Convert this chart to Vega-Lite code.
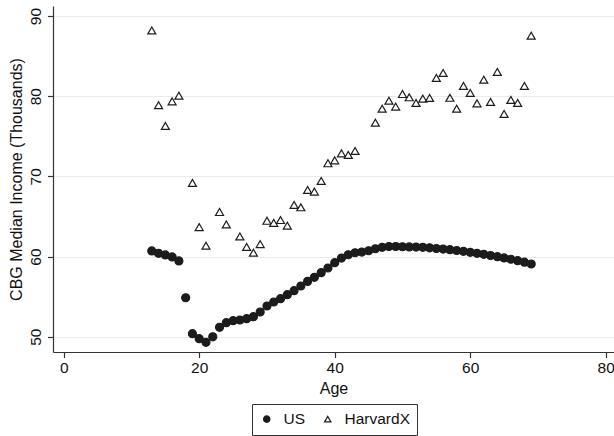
{
  "$schema": "https://vega.github.io/schema/vega-lite/v6.json",
  "width": 561,
  "height": 346,
  "autosize": "none",
  "padding": {"left": 53, "top": 6, "right": 0, "bottom": 84},
  "background": "white",
  "config": {
    "view": {"stroke": null},
    "font": "Liberation Sans",
    "axis": {
      "labelFont": "Liberation Sans",
      "titleFont": "Liberation Sans",
      "labelFontSize": 15.5,
      "titleFontSize": 16,
      "titleFontWeight": "normal",
      "labelColor": "#111111",
      "titleColor": "#111111",
      "domainColor": "#333333",
      "tickColor": "#333333",
      "domainWidth": 1.2,
      "tickWidth": 1.2,
      "tickSize": 5.5
    },
    "legend": {
      "strokeColor": "#333333",
      "padding": 7,
      "symbolSize": 40,
      "symbolStrokeWidth": 1.2,
      "labelOffset": 9,
      "columnPadding": 14,
      "labelFont": "Liberation Sans",
      "labelFontSize": 15.5,
      "labelColor": "#111111"
    }
  },
  "data": {
    "values": [
      {"age": 13, "income": 60.7, "series": "US"},
      {"age": 14, "income": 60.4, "series": "US"},
      {"age": 15, "income": 60.2, "series": "US"},
      {"age": 16, "income": 59.95, "series": "US"},
      {"age": 17, "income": 59.45, "series": "US"},
      {"age": 18, "income": 54.86, "series": "US"},
      {"age": 19, "income": 50.37, "series": "US"},
      {"age": 20, "income": 49.75, "series": "US"},
      {"age": 21, "income": 49.3, "series": "US"},
      {"age": 22, "income": 49.98, "series": "US"},
      {"age": 23, "income": 51.17, "series": "US"},
      {"age": 24, "income": 51.75, "series": "US"},
      {"age": 25, "income": 52.0, "series": "US"},
      {"age": 26, "income": 52.08, "series": "US"},
      {"age": 27, "income": 52.25, "series": "US"},
      {"age": 28, "income": 52.5, "series": "US"},
      {"age": 29, "income": 53.08, "series": "US"},
      {"age": 30, "income": 53.83, "series": "US"},
      {"age": 31, "income": 54.33, "series": "US"},
      {"age": 32, "income": 54.74, "series": "US"},
      {"age": 33, "income": 55.24, "series": "US"},
      {"age": 34, "income": 55.74, "series": "US"},
      {"age": 35, "income": 56.32, "series": "US"},
      {"age": 36, "income": 56.9, "series": "US"},
      {"age": 37, "income": 57.4, "series": "US"},
      {"age": 38, "income": 57.98, "series": "US"},
      {"age": 39, "income": 58.57, "series": "US"},
      {"age": 40, "income": 59.23, "series": "US"},
      {"age": 41, "income": 59.81, "series": "US"},
      {"age": 42, "income": 60.22, "series": "US"},
      {"age": 43, "income": 60.47, "series": "US"},
      {"age": 44, "income": 60.56, "series": "US"},
      {"age": 45, "income": 60.72, "series": "US"},
      {"age": 46, "income": 60.97, "series": "US"},
      {"age": 47, "income": 61.15, "series": "US"},
      {"age": 48, "income": 61.25, "series": "US"},
      {"age": 49, "income": 61.25, "series": "US"},
      {"age": 50, "income": 61.22, "series": "US"},
      {"age": 51, "income": 61.2, "series": "US"},
      {"age": 52, "income": 61.18, "series": "US"},
      {"age": 53, "income": 61.15, "series": "US"},
      {"age": 54, "income": 61.08, "series": "US"},
      {"age": 55, "income": 61.0, "series": "US"},
      {"age": 56, "income": 60.93, "series": "US"},
      {"age": 57, "income": 60.85, "series": "US"},
      {"age": 58, "income": 60.75, "series": "US"},
      {"age": 59, "income": 60.65, "series": "US"},
      {"age": 60, "income": 60.52, "series": "US"},
      {"age": 61, "income": 60.4, "series": "US"},
      {"age": 62, "income": 60.27, "series": "US"},
      {"age": 63, "income": 60.13, "series": "US"},
      {"age": 64, "income": 59.98, "series": "US"},
      {"age": 65, "income": 59.82, "series": "US"},
      {"age": 66, "income": 59.66, "series": "US"},
      {"age": 67, "income": 59.48, "series": "US"},
      {"age": 68, "income": 59.3, "series": "US"},
      {"age": 69, "income": 59.07, "series": "US"},
      {"age": 13, "income": 88.2, "series": "HarvardX"},
      {"age": 14, "income": 78.87, "series": "HarvardX"},
      {"age": 15, "income": 76.28, "series": "HarvardX"},
      {"age": 16, "income": 79.36, "series": "HarvardX"},
      {"age": 17, "income": 80.06, "series": "HarvardX"},
      {"age": 19, "income": 69.18, "series": "HarvardX"},
      {"age": 20, "income": 63.67, "series": "HarvardX"},
      {"age": 21, "income": 61.35, "series": "HarvardX"},
      {"age": 23, "income": 65.55, "series": "HarvardX"},
      {"age": 24, "income": 64.0, "series": "HarvardX"},
      {"age": 26, "income": 62.5, "series": "HarvardX"},
      {"age": 27, "income": 61.2, "series": "HarvardX"},
      {"age": 28, "income": 60.47, "series": "HarvardX"},
      {"age": 29, "income": 61.55, "series": "HarvardX"},
      {"age": 30, "income": 64.46, "series": "HarvardX"},
      {"age": 31, "income": 64.2, "series": "HarvardX"},
      {"age": 32, "income": 64.55, "series": "HarvardX"},
      {"age": 33, "income": 63.85, "series": "HarvardX"},
      {"age": 34, "income": 66.43, "series": "HarvardX"},
      {"age": 35, "income": 66.14, "series": "HarvardX"},
      {"age": 36, "income": 68.3, "series": "HarvardX"},
      {"age": 37, "income": 68.1, "series": "HarvardX"},
      {"age": 38, "income": 69.43, "series": "HarvardX"},
      {"age": 39, "income": 71.63, "series": "HarvardX"},
      {"age": 40, "income": 72.0, "series": "HarvardX"},
      {"age": 41, "income": 72.87, "series": "HarvardX"},
      {"age": 42, "income": 72.67, "series": "HarvardX"},
      {"age": 43, "income": 73.17, "series": "HarvardX"},
      {"age": 46, "income": 76.7, "series": "HarvardX"},
      {"age": 47, "income": 78.44, "series": "HarvardX"},
      {"age": 48, "income": 79.44, "series": "HarvardX"},
      {"age": 49, "income": 78.7, "series": "HarvardX"},
      {"age": 50, "income": 80.27, "series": "HarvardX"},
      {"age": 51, "income": 79.86, "series": "HarvardX"},
      {"age": 52, "income": 79.15, "series": "HarvardX"},
      {"age": 53, "income": 79.7, "series": "HarvardX"},
      {"age": 54, "income": 79.78, "series": "HarvardX"},
      {"age": 55, "income": 82.27, "series": "HarvardX"},
      {"age": 56, "income": 82.9, "series": "HarvardX"},
      {"age": 57, "income": 79.8, "series": "HarvardX"},
      {"age": 58, "income": 78.44, "series": "HarvardX"},
      {"age": 59, "income": 81.27, "series": "HarvardX"},
      {"age": 60, "income": 80.4, "series": "HarvardX"},
      {"age": 61, "income": 79.11, "series": "HarvardX"},
      {"age": 62, "income": 82.06, "series": "HarvardX"},
      {"age": 63, "income": 79.28, "series": "HarvardX"},
      {"age": 64, "income": 83.02, "series": "HarvardX"},
      {"age": 65, "income": 77.78, "series": "HarvardX"},
      {"age": 66, "income": 79.53, "series": "HarvardX"},
      {"age": 67, "income": 79.15, "series": "HarvardX"},
      {"age": 68, "income": 81.27, "series": "HarvardX"},
      {"age": 69, "income": 87.54, "series": "HarvardX"}
    ]
  },
  "mark": {"type": "point", "strokeWidth": 1.2, "opacity": 1, "stroke": "#1c1c1c", "size": 64},
  "encoding": {
    "x": {
      "field": "age",
      "type": "quantitative",
      "title": "Age",
      "scale": {"domain": [-1.58, 81.22], "nice": false, "zero": false},
      "axis": {
        "values": [0, 20, 40, 60, 80],
        "grid": false,
        "labelPadding": 3,
        "titlePadding": 4,
        "labelFlush": false
      }
    },
    "y": {
      "field": "income",
      "type": "quantitative",
      "title": "CBG Median Income (Thousands)",
      "scale": {"domain": [48.09, 91.25], "nice": false, "zero": false},
      "axis": {
        "values": [50, 60, 70, 80, 90],
        "grid": true,
        "gridColor": "#e4edf1",
        "gridWidth": 1.2,
        "labelAngle": -90,
        "labelAlign": "center",
        "labelBaseline": "bottom",
        "labelPadding": 4,
        "titlePadding": 4,
        "labelFlush": false
      }
    },
    "shape": {
      "field": "series",
      "type": "nominal",
      "title": null,
      "scale": {"domain": ["US", "HarvardX"], "range": ["circle", "triangle-up"]},
      "legend": {
        "orient": "none", "direction": "horizontal", "legendX": 199, "legendY": 398,
        "encode": {"symbols": {"update": {"stroke": {"value": "#1c1c1c"}, "strokeWidth": {"value": 1.2}}}}
      }
    },
    "fill": {
      "field": "series",
      "type": "nominal",
      "title": null,
      "scale": {"domain": ["US", "HarvardX"], "range": ["#1c1c1c", "#ffffff"]},
      "legend": {
        "orient": "none", "direction": "horizontal", "legendX": 199, "legendY": 398,
        "encode": {"symbols": {"update": {"stroke": {"value": "#1c1c1c"}, "strokeWidth": {"value": 1.2}}}}
      }
    }
  }
}
